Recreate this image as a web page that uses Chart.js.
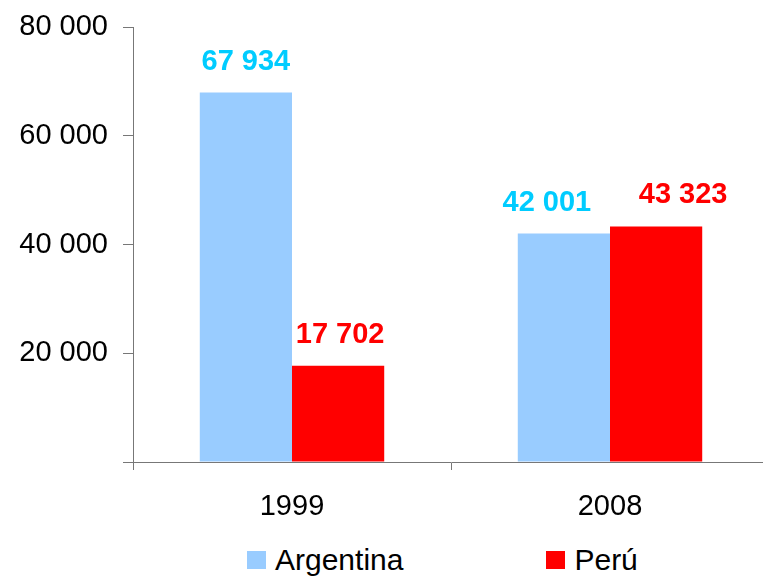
<!DOCTYPE html>
<html>
<head>
<meta charset="utf-8">
<title>Argentina / Perú</title>
<script src="https://cdn.jsdelivr.net/npm/chart.js@4.4.1/dist/chart.umd.min.js"></script>
<style>
    html, body { margin: 0; padding: 0; background: #fff; overflow: hidden; }
    #wrap { position: relative; width: 770px; height: 540px; }
    #legend {
        display: flex; align-items: center; height: 40px; margin: 0; padding: 0 0 0 247px;
        list-style: none; font-family: 'Liberation Sans', Arial, sans-serif; font-size: 30px; color: #000;
    }
    #legend li { display: flex; align-items: center; margin-right: 143px; }
    #legend .box { display: inline-block; width: 19px; height: 18px; margin-right: 9px; }
</style>
</head>
<body>
<div id="wrap"><canvas id="chart"></canvas></div>
<ul id="legend"></ul>
<script>
// 数据
const years = ['1999', '2008'];
const argentina = [67934, 42001];
const peru = [17702, 43323];
const yTicks = [0, 20000, 40000, 60000, 80000];

const seriesNames = ['Argentina', 'Perú'];
const barColors = ['#99CCFF', '#FF0000'];
const labelColors = ['#00CCFF', '#FF0000'];
const axisColor = '#777777';

// 千位用空格分隔
function formatNum(v) {
    return String(v).replace(/\B(?=(\d{3})+(?!\d))/g, ' ');
}

// 柱顶数值标签
const valueLabels = {
    id: 'valueLabels',
    afterDatasetsDraw(chart, args, opts) {
        const ctx = chart.ctx;
        ctx.save();
        ctx.font = "bold 29px 'Liberation Sans', Arial, sans-serif";
        ctx.textAlign = 'center';
        ctx.textBaseline = 'alphabetic';
        chart.data.datasets.forEach((ds, i) => {
            const meta = chart.getDatasetMeta(i);
            ctx.fillStyle = labelColors[i];
            meta.data.forEach((bar, j) => {
                ctx.fillText(formatNum(ds.data[j]), bar.x + opts.shift[i][j], bar.y - opts.gap);
            });
        });
        ctx.restore();
    }
};

// HTML 图例
const htmlLegend = {
    id: 'htmlLegend',
    afterUpdate(chart) {
        const ul = document.getElementById('legend');
        ul.innerHTML = '';
        const items = chart.options.plugins.legend.labels.generateLabels(chart);
        items.forEach(item => {
            const li = document.createElement('li');
            const box = document.createElement('span');
            box.className = 'box';
            box.style.background = item.fillStyle;
            const txt = document.createElement('span');
            txt.textContent = item.text;
            li.appendChild(box);
            li.appendChild(txt);
            ul.appendChild(li);
        });
    }
};

Chart.defaults.font.family = "'Liberation Sans', Arial, sans-serif";
Chart.defaults.color = '#000';

const ctx = document.getElementById('chart').getContext('2d');
const chart = new Chart(ctx, {
    type: 'bar',
    data: {
        labels: years,
        datasets: [{
            label: seriesNames[0],
            data: argentina,
            backgroundColor: barColors[0],
            borderWidth: 0
        }, {
            label: seriesNames[1],
            data: peru,
            backgroundColor: barColors[1],
            borderWidth: 0
        }]
    },
    options: {
        responsive: true,
        maintainAspectRatio: false,
        animation: false,
        categoryPercentage: 0.58,
        barPercentage: 1.0,
        layout: {
            padding: { top: 27, left: 0, right: 1, bottom: 0 }
        },
        scales: {
            x: {
                grid: {
                    offset: true,
                    drawOnChartArea: false,
                    drawTicks: true,
                    tickLength: 8,
                    color: axisColor
                },
                border: { color: axisColor, width: 1 },
                ticks: { font: { size: 29 }, padding: 20 },
                afterFit(scale) { scale.height = 78; }
            },
            y: {
                min: 0,
                max: 80000,
                afterBuildTicks(scale) {
                    scale.ticks = yTicks.map(v => ({ value: v }));
                },
                grid: {
                    drawOnChartArea: false,
                    drawTicks: true,
                    tickLength: 10,
                    color: axisColor
                },
                border: { color: axisColor, width: 1 },
                ticks: {
                    font: { size: 29 },
                    padding: 15,
                    callback: v => (v === 0 ? '' : formatNum(v))
                },
                afterFit(scale) {
                    scale.width = 133;
                    scale.paddingTop = 0;
                }
            }
        },
        plugins: {
            legend: { display: false },
            tooltip: { enabled: false },
            valueLabels: {
                gap: 23,
                shift: [[0, -17], [2, 27]]
            }
        }
    },
    plugins: [valueLabels, htmlLegend]
});
</script>
</body>
</html>
